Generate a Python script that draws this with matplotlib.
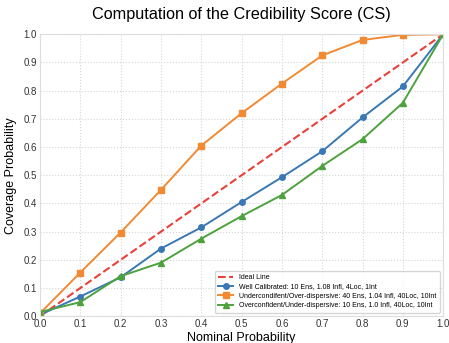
import numpy as np
import matplotlib
matplotlib.use("Agg")
import matplotlib.pyplot as plt

nominal = [0.0, 0.1, 0.2, 0.3, 0.4, 0.5, 0.6, 0.7, 0.8, 0.9, 1.0]
well_cal = [0.005, 0.07, 0.138, 0.24, 0.315, 0.405, 0.493, 0.585, 0.705, 0.815, 1.0]
under_conf = [0.01, 0.155, 0.297, 0.448, 0.605, 0.72, 0.825, 0.925, 0.98, 0.998, 1.0]
over_conf = [0.015, 0.05, 0.142, 0.19, 0.275, 0.355, 0.43, 0.533, 0.628, 0.757, 1.0]

labels = [
    "Ideal Line",
    "Well Calibrated: 10 Ens, 1.08 Infl, 4Loc, 1Int",
    "Undercondifent/Over-dispersive: 40 Ens, 1.04 Infl, 40Loc, 10Int",
    "Overconfident/Under-dispersive: 10 Ens, 1.0 Infl, 40Loc, 10Int",
]

plt.rcParams["font.family"] = ["Liberation Sans", "DejaVu Sans"]

fig, ax = plt.subplots(figsize=(4.49, 3.43), dpi=100)
fig.subplots_adjust(left=0.089, right=0.987, top=0.9, bottom=0.078)

ax.plot([0, 1], [0, 1], "--", color="#e8413a", lw=1.5, label=labels[0])
ax.plot(nominal, well_cal, "o-", color="#3a78b5", lw=1.4, ms=4, label=labels[1])
ax.plot(nominal, under_conf, "s-", color="#f28a33", lw=1.4, ms=4, label=labels[2])
ax.plot(nominal, over_conf, "^-", color="#4ea23e", lw=1.4, ms=4, label=labels[3])

ax.set_xlim(0, 1)
ax.set_ylim(0, 1)
ax.set_xticks(np.arange(0, 1.01, 0.1))
ax.set_yticks(np.arange(0, 1.01, 0.1))
ax.tick_params(labelsize=7, length=0, colors="#333333", pad=2)
ax.grid(True, ls=":", color="#d5d5d5", lw=0.8)
for s in ax.spines.values():
    s.set_color("#dddddd")

ax.set_title("Computation of the Credibility Score (CS)", fontsize=11.7, pad=11)
ax.set_xlabel("Nominal Probability", fontsize=9, labelpad=2)
ax.set_ylabel("Coverage Probability", fontsize=9, labelpad=5)

ax.legend(loc="lower right", fontsize=5, frameon=True, edgecolor="#cccccc",
          handlelength=2.2, borderpad=0.5, labelspacing=0.35)

fig.savefig("out.png", dpi=100)
